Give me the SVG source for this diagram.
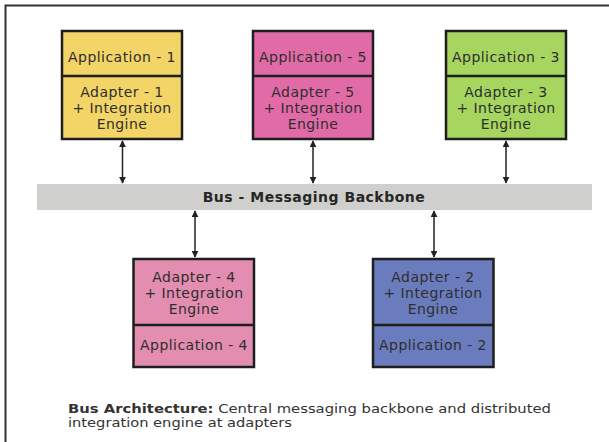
<svg xmlns="http://www.w3.org/2000/svg" width="609" height="442" viewBox="0 0 609 442">
  <style>
    .box { stroke: #1e1e1e; stroke-width: 2.5; }
    .div { stroke: #1e1e1e; stroke-width: 2.5; }
    .lbl { font-family: "DejaVu Sans", Verdana, sans-serif; font-size: 14px; letter-spacing: 0.45px; fill: #2e2e2e; text-anchor: middle; }
    .bus-lbl { font-family: "DejaVu Sans", Verdana, sans-serif; font-size: 14px; letter-spacing: 0.5px; font-weight: bold; fill: #262626; text-anchor: middle; }
    .cap { font-family: "DejaVu Sans", Verdana, sans-serif; font-size: 12px; fill: #333; }
    .conn { stroke: #222; stroke-width: 1.5; fill: none; marker-start: url(#ah); marker-end: url(#ah); }
  </style>
  <defs>
    <marker id="ah" viewBox="0 0 10 10" refX="9" refY="5" markerWidth="7" markerHeight="7" markerUnits="userSpaceOnUse" orient="auto-start-reverse">
      <path d="M0,0 L10,5 L0,10 z" fill="#222"/>
    </marker>
  </defs>

  <rect width="609" height="442" fill="#fff"/>
  <!-- frame: top and left edges only -->
  <path d="M5.5,442 V5.5 H609" stroke="#333" stroke-width="2" fill="none"/>

  <!-- bus -->
  <g id="bus">
    <rect x="37" y="184" width="555" height="26" fill="#cfcfcd"/>
    <text class="bus-lbl" x="314" y="202">Bus - Messaging Backbone</text>
  </g>

  <!-- top row -->
  <g id="node-app1">
    <rect class="box" x="62" y="31" width="120" height="108" fill="#f3d466"/>
    <line class="div" x1="62" y1="76" x2="182" y2="76"/>
    <text class="lbl" x="122" y="61.5">Application - 1</text>
    <text class="lbl" x="122" y="96.5">Adapter - 1</text>
    <text class="lbl" x="122" y="112.5">+ Integration</text>
    <text class="lbl" x="122" y="128.5">Engine</text>
  </g>
  <g id="node-app5">
    <rect class="box" x="253" y="31" width="120" height="108" fill="#e16ba7"/>
    <line class="div" x1="253" y1="76" x2="373" y2="76"/>
    <text class="lbl" x="313" y="61.5">Application - 5</text>
    <text class="lbl" x="313" y="96.5">Adapter - 5</text>
    <text class="lbl" x="313" y="112.5">+ Integration</text>
    <text class="lbl" x="313" y="128.5">Engine</text>
  </g>
  <g id="node-app3">
    <rect class="box" x="446" y="31" width="120" height="108" fill="#a6d65f"/>
    <line class="div" x1="446" y1="76" x2="566" y2="76"/>
    <text class="lbl" x="506" y="61.5">Application - 3</text>
    <text class="lbl" x="506" y="96.5">Adapter - 3</text>
    <text class="lbl" x="506" y="112.5">+ Integration</text>
    <text class="lbl" x="506" y="128.5">Engine</text>
  </g>

  <!-- bottom row -->
  <g id="node-app4">
    <rect class="box" x="133.5" y="259" width="120.5" height="108" fill="#e38db0"/>
    <line class="div" x1="133.5" y1="325" x2="254" y2="325"/>
    <text class="lbl" x="194" y="282">Adapter - 4</text>
    <text class="lbl" x="194" y="298">+ Integration</text>
    <text class="lbl" x="194" y="314">Engine</text>
    <text class="lbl" x="194" y="349.5">Application - 4</text>
  </g>
  <g id="node-app2">
    <rect class="box" x="373" y="259" width="120.5" height="108" fill="#6a7cbd"/>
    <line class="div" x1="373" y1="325" x2="493.5" y2="325"/>
    <text class="lbl" x="433" y="282">Adapter - 2</text>
    <text class="lbl" x="433" y="298">+ Integration</text>
    <text class="lbl" x="433" y="314">Engine</text>
    <text class="lbl" x="433" y="349.5">Application - 2</text>
  </g>

  <!-- connectors between applications and the bus -->
  <g id="connectors">
    <line class="conn" x1="122.5" y1="141" x2="122.5" y2="183"/>
    <line class="conn" x1="313" y1="141" x2="313" y2="183"/>
    <line class="conn" x1="506" y1="141" x2="506" y2="183"/>
    <line class="conn" x1="195" y1="211" x2="195" y2="257"/>
    <line class="conn" x1="434" y1="211" x2="434" y2="257"/>
  </g>

  <!-- caption -->
  <g id="caption">
    <text class="cap" x="68" y="413" textLength="483" lengthAdjust="spacingAndGlyphs"><tspan font-weight="bold">Bus Architecture:</tspan> Central messaging backbone and distributed</text>
    <text class="cap" x="68" y="427" textLength="224" lengthAdjust="spacingAndGlyphs">integration engine at adapters</text>
  </g>
</svg>
